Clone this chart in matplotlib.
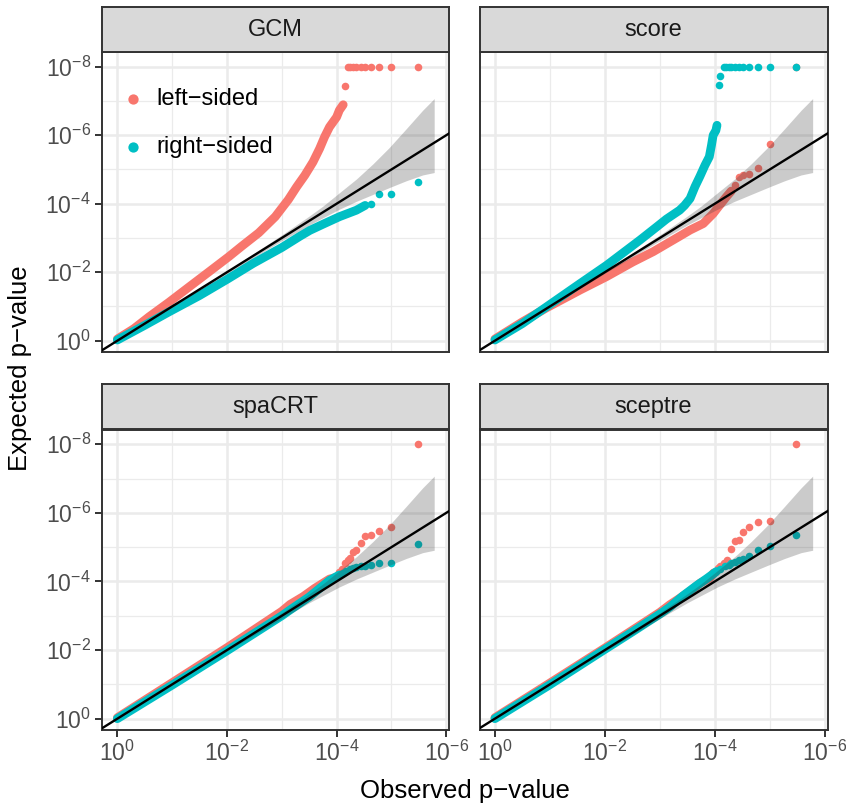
import matplotlib
matplotlib.use("Agg")
import matplotlib.pyplot as plt

plt.rcParams["font.family"] = ["Liberation Sans", "DejaVu Sans"]
plt.rcParams["mathtext.fontset"] = "custom"
plt.rcParams["mathtext.rm"] = "Liberation Sans"
plt.rcParams["mathtext.it"] = "Liberation Sans:italic"
plt.rcParams["mathtext.bf"] = "Liberation Sans:bold"

RED = "#F8766D"
BLUE = "#00BFC4"

# axis values are -log10(p)
TICKS = [0, 2, 4, 6]
Y_TICKS = [0, 2, 4, 6, 8]
MINOR_X = [1, 3, 5]
MINOR_Y = [1, 3, 5, 7]
TICK_LABELS = ["$10^{0}$", "$10^{-2}$", "$10^{-4}$", "$10^{-6}$"]
Y_TICK_LABELS = ["$10^{0}$", "$10^{-2}$", "$10^{-4}$", "$10^{-6}$", "$10^{-8}$"]

# confidence band (x, lower, upper), same for all panels
BAND = [(0.0, -0.01, 0.01), (2.0, 1.97, 2.03), (3.0, 2.92, 3.09), (3.5, 3.38, 3.64),
        (3.75, 3.59, 3.93), (4.05, 3.84, 4.32), (4.36, 4.07, 4.72), (4.66, 4.27, 5.16),
        (4.96, 4.47, 5.64), (5.27, 4.67, 6.19), (5.57, 4.84, 6.73), (5.78, 4.91, 7.07)]

# dense part of each curve (drawn as a thick stroke of overlapping points)
GCM_LEFT = [(0.0, 0.05), (0.3, 0.35), (0.58, 0.70), (0.94, 1.12), (1.30, 1.56), (1.67, 2.01),
            (2.03, 2.45), (2.27, 2.76), (2.58, 3.15), (2.88, 3.62), (3.12, 4.12), (3.27, 4.49),
            (3.42, 4.83), (3.57, 5.22), (3.69, 5.61), (3.78, 5.95), (3.87, 6.24), (4.00, 6.53),
            (4.05, 6.73), (4.12, 6.89)]
GCM_LEFT_TAIL = [(4.16, 7.43), (4.20, 8.0), (4.25, 8.0), (4.30, 8.0), (4.36, 8.0), (4.44, 8.0),
                 (4.52, 8.0), (4.63, 8.0), (4.78, 8.0), (5.0, 8.0), (5.48, 8.0)]
GCM_RIGHT = [(0.0, 0.02), (0.5, 0.45), (0.94, 0.84), (1.5, 1.32), (2.01, 1.80), (2.48, 2.26),
             (3.0, 2.72), (3.33, 3.05), (3.51, 3.22), (3.75, 3.40), (4.05, 3.62), (4.36, 3.81),
             (4.44, 3.88), (4.52, 3.95)]
GCM_RIGHT_TAIL = [(4.63, 4.0), (4.78, 4.28), (5.0, 4.28), (5.48, 4.64)]

SCORE_LEFT = [(0.0, 0.05), (0.5, 0.55), (0.94, 0.96), (1.55, 1.48), (2.03, 1.87), (2.51, 2.30),
              (2.88, 2.60), (3.36, 3.05), (3.55, 3.23), (3.79, 3.42), (3.97, 3.71), (4.09, 3.96),
              (4.21, 4.20), (4.30, 4.37)]
SCORE_LEFT_TAIL = [(4.36, 4.55), (4.44, 4.78), (4.52, 4.83), (4.63, 4.86), (4.78, 5.05),
                   (5.0, 5.75), (5.48, 8.0)]
SCORE_RIGHT = [(0.0, 0.02), (0.5, 0.50), (0.94, 0.99), (1.55, 1.67), (2.03, 2.20), (2.64, 2.94),
               (2.94, 3.32), (3.12, 3.55), (3.24, 3.68), (3.36, 3.81), (3.45, 3.95), (3.55, 4.15),
               (3.64, 4.50), (3.73, 4.80), (3.82, 5.12), (3.90, 5.37), (3.94, 5.71), (3.97, 6.0),
               (4.02, 6.14), (4.04, 6.29)]
SCORE_RIGHT_TAIL = [(4.07, 7.47), (4.09, 7.73), (4.16, 8.0), (4.20, 8.0), (4.25, 8.0), (4.30, 8.0),
                    (4.36, 8.0), (4.44, 8.0), (4.52, 8.0), (4.63, 8.0), (4.78, 8.0), (5.0, 8.0),
                    (5.48, 8.0)]

SPACRT_LEFT = [(0.0, 0.03), (1.0, 1.05), (2.0, 2.07), (2.5, 2.60), (3.0, 3.13), (3.15, 3.33),
               (3.39, 3.56), (3.6, 3.80), (3.75, 3.95), (3.87, 4.07), (3.99, 4.12)]
SPACRT_LEFT_TAIL = [(4.05, 4.29), (4.09, 4.36), (4.16, 4.55), (4.20, 4.62), (4.25, 4.68),
                    (4.30, 4.87), (4.36, 4.93), (4.44, 5.12), (4.52, 5.33), (4.63, 5.36),
                    (4.78, 5.47), (5.0, 5.60), (5.48, 8.0)]
SPACRT_RIGHT = [(0.0, 0.0), (1.0, 0.98), (2.0, 1.98), (3.0, 3.0), (3.15, 3.17), (3.5, 3.55),
                (3.87, 4.03), (4.05, 4.19)]
SPACRT_RIGHT_TAIL = [(4.12, 4.25), (4.18, 4.31), (4.25, 4.35), (4.30, 4.39), (4.36, 4.42),
                     (4.44, 4.45), (4.52, 4.46), (4.63, 4.49), (4.78, 4.53), (5.0, 4.53),
                     (5.48, 5.09)]

SCEPTRE_LEFT = [(0.0, 0.03), (1.0, 1.04), (2.0, 2.06), (2.5, 2.58), (3.0, 3.10), (3.18, 3.32),
                (3.55, 3.71), (3.73, 3.95), (3.91, 4.10), (3.98, 4.25)]
SCEPTRE_LEFT_TAIL = [(4.05, 4.39), (4.10, 4.45), (4.16, 4.53), (4.22, 4.63), (4.30, 4.96),
                     (4.36, 5.19), (4.44, 5.21), (4.52, 5.43), (4.63, 5.59), (4.78, 5.72),
                     (5.0, 5.75), (5.48, 8.0)]
SCEPTRE_RIGHT = [(0.0, 0.0), (1.0, 0.99), (2.0, 2.02), (2.5, 2.53), (3.0, 3.05), (3.18, 3.25),
                 (3.42, 3.58), (3.67, 3.88), (3.85, 4.08), (4.03, 4.29)]
SCEPTRE_RIGHT_TAIL = [(4.10, 4.36), (4.18, 4.44), (4.25, 4.49), (4.30, 4.53), (4.36, 4.58),
                      (4.44, 4.63), (4.52, 4.65), (4.63, 4.74), (4.78, 4.93), (5.0, 5.02),
                      (5.48, 5.36)]

PANELS = [
    ("GCM", GCM_LEFT, GCM_LEFT_TAIL, GCM_RIGHT, GCM_RIGHT_TAIL),
    ("score", SCORE_LEFT, SCORE_LEFT_TAIL, SCORE_RIGHT, SCORE_RIGHT_TAIL),
    ("spaCRT", SPACRT_LEFT, SPACRT_LEFT_TAIL, SPACRT_RIGHT, SPACRT_RIGHT_TAIL),
    ("sceptre", SCEPTRE_LEFT, SCEPTRE_LEFT_TAIL, SCEPTRE_RIGHT, SCEPTRE_RIGHT_TAIL),
]

W, H = 846, 805
# panel boxes in pixels: left, top, right, bottom
BOXES = [(102, 52, 449, 352), (479.5, 52, 827.5, 352),
         (102, 429.5, 449, 730), (479.5, 429.5, 827.5, 730)]
STRIP_H = 45

fig = plt.figure(figsize=(W / 100, H / 100), dpi=100)


def unzip(pts):
    return [p[0] for p in pts], [p[1] for p in pts]


for i, (name, left, left_tail, right, right_tail) in enumerate(PANELS):
    l, t, r, b = BOXES[i]
    ax = fig.add_axes([l / W, 1 - b / H, (r - l) / W, (b - t) / H])
    ax.set_xlim(-0.28, 6.05)
    ax.set_ylim(-0.33, 8.43)

    x, y = unzip(left)
    ax.plot(x, y, color=RED, lw=6.3, solid_capstyle="round", solid_joinstyle="round", zorder=2)
    x, y = unzip(left_tail)
    ax.scatter(x, y, s=30, color=RED, linewidths=0, zorder=2, label="left\u2212sided")
    x, y = unzip(right)
    ax.plot(x, y, color=BLUE, lw=6.3, solid_capstyle="round", solid_joinstyle="round", zorder=3)
    x, y = unzip(right_tail)
    ax.scatter(x, y, s=30, color=BLUE, linewidths=0, zorder=3, label="right\u2212sided")

    bx = [p[0] for p in BAND]
    ax.fill_between(bx, [p[1] for p in BAND], [p[2] for p in BAND],
                    color="#333333", alpha=0.25, linewidth=0, zorder=4)
    ax.axline((0, 0), slope=1, color="black", lw=1.7, zorder=5)

    ax.set_xticks(TICKS)
    ax.set_xticks(MINOR_X, minor=True)
    ax.set_yticks(Y_TICKS)
    ax.set_yticks(MINOR_Y, minor=True)
    ax.grid(which="major", color="#EBEBEB", lw=1.8)
    ax.grid(which="minor", color="#EBEBEB", lw=0.9)
    ax.set_axisbelow(True)
    ax.tick_params(which="minor", length=0)
    ax.tick_params(which="major", color="#333333", width=1.4, length=5,
                   labelcolor="#4D4D4D", labelsize=16.5, pad=3)
    if i >= 2:
        ax.set_xticklabels(TICK_LABELS)
    else:
        ax.tick_params(axis="x", length=0, labelbottom=False)
    if i % 2 == 0:
        ax.set_yticklabels(Y_TICK_LABELS)
    else:
        ax.tick_params(axis="y", length=0, labelleft=False)
    for sp in ax.spines.values():
        sp.set_color("#333333")
        sp.set_linewidth(1.4)

    sax = fig.add_axes([l / W, 1 - t / H, (r - l) / W, STRIP_H / H])
    sax.set_facecolor("#D9D9D9")
    sax.set_xticks([])
    sax.set_yticks([])
    for sp in sax.spines.values():
        sp.set_color("#333333")
        sp.set_linewidth(1.4)
    sax.text(0.5, 0.5, name, ha="center", va="center", fontsize=17, color="#1A1A1A",
             transform=sax.transAxes)

    if i == 0:
        ax.legend(loc="upper left", bbox_to_anchor=(0.062, 0.88), frameon=False,
                  fontsize=17, markerscale=1.35, handlelength=0.8, handletextpad=0.6,
                  labelspacing=1.1, borderpad=0, borderaxespad=0)

fig.text(465 / W, 1 - 791 / H, "Observed p\u2212value", ha="center", va="center", fontsize=18.5)
fig.text(20 / W, 1 - 368 / H, "Expected p\u2212value", ha="center", va="center",
         rotation=90, fontsize=18.5)

fig.savefig("out.png", dpi=100)
